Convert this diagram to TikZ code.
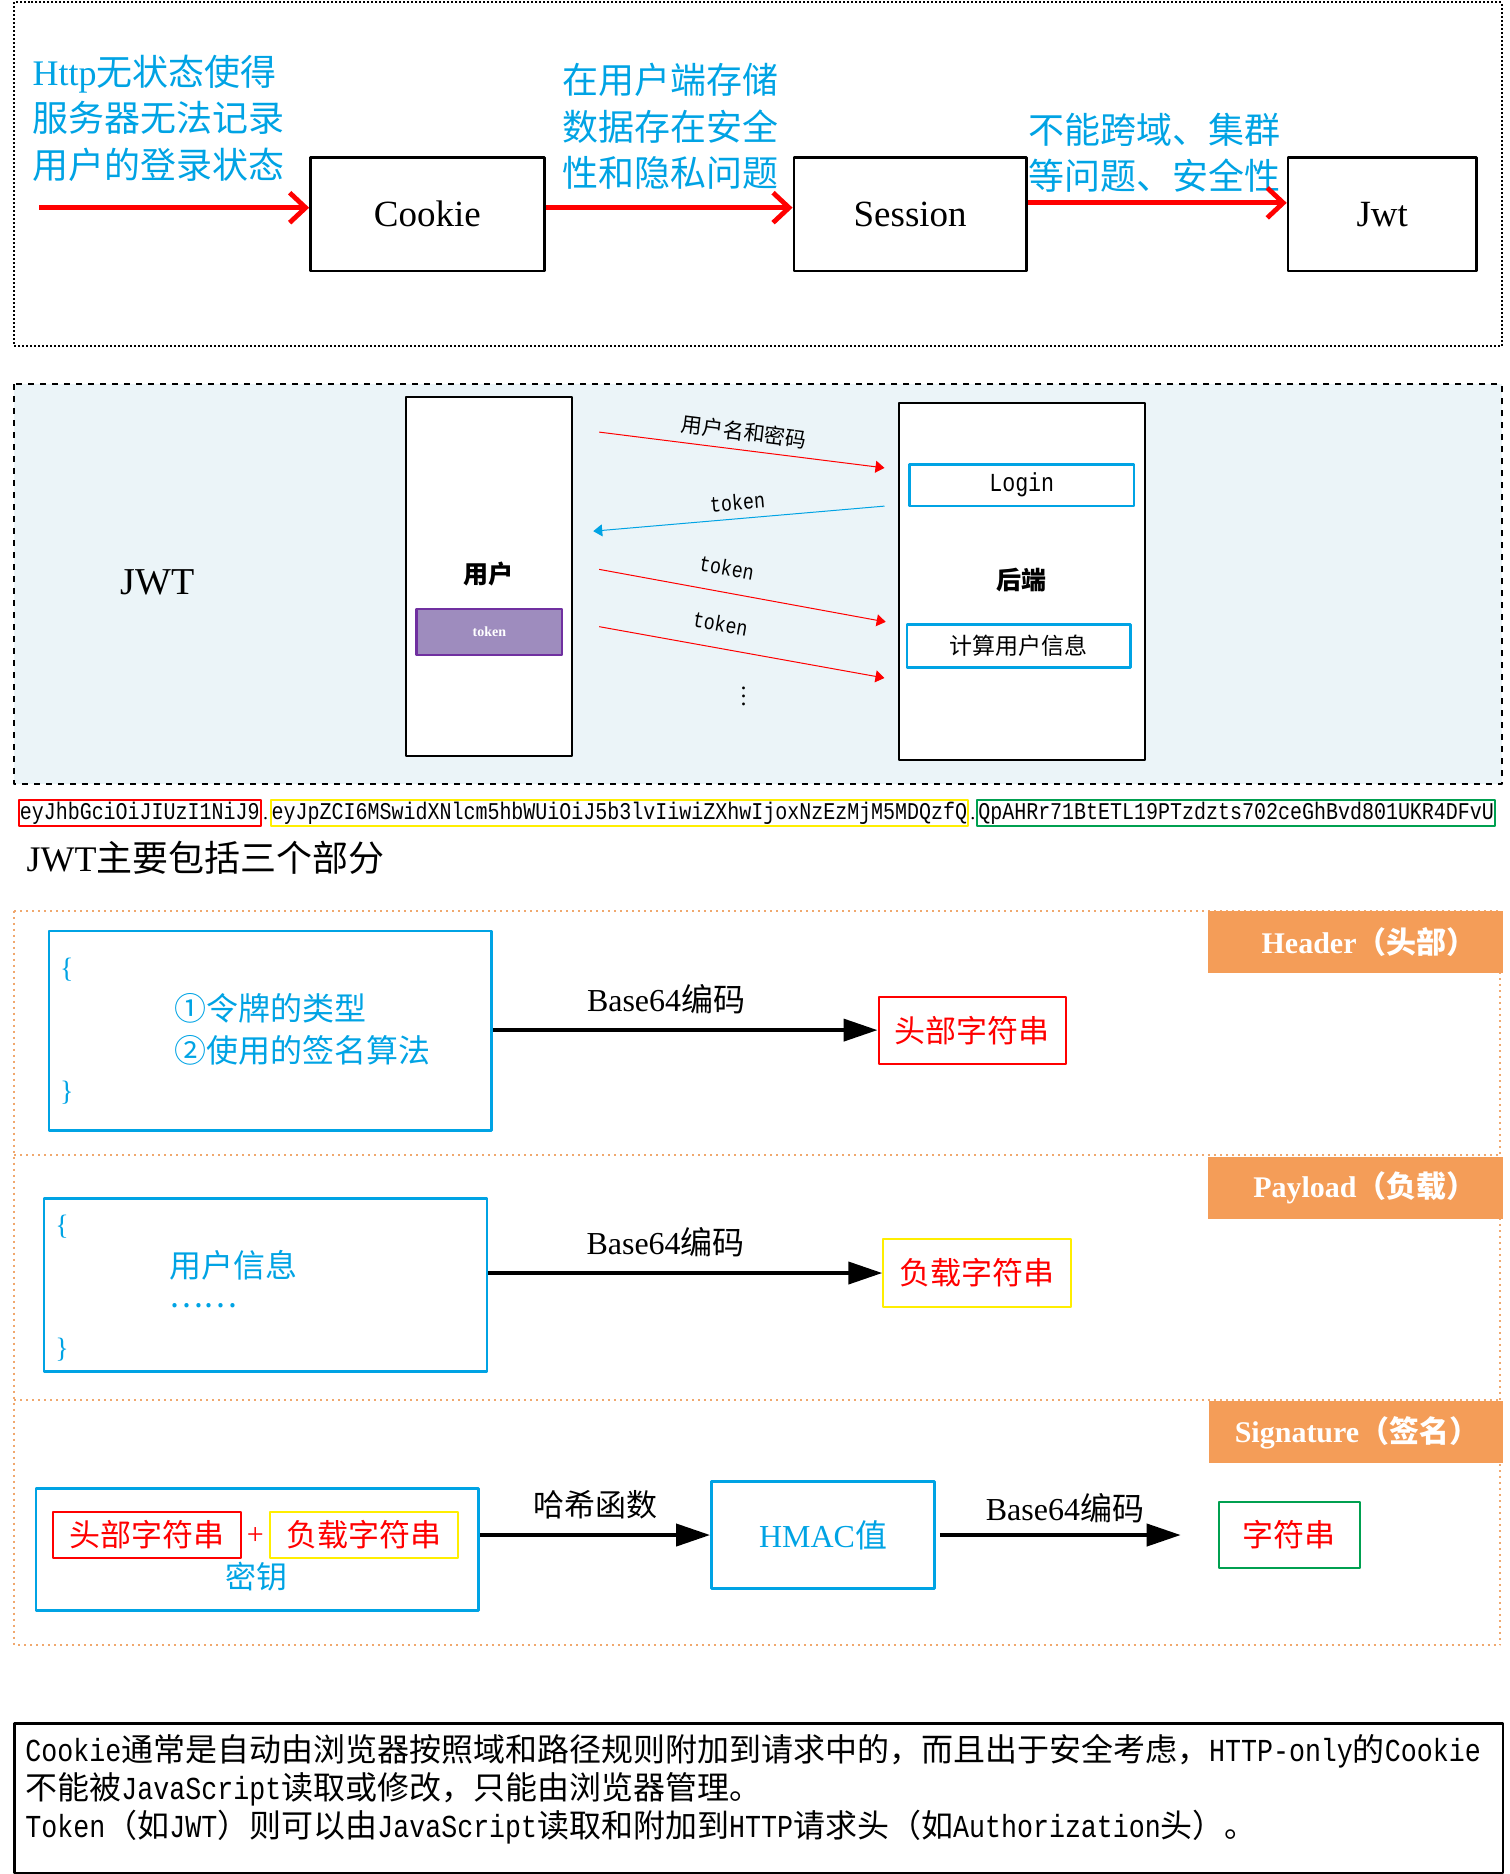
\documentclass[tikz,border=0pt]{standalone}
\usepackage{graphicx}
\usepackage{fontspec}
\setmainfont{Liberation Serif}
\setmonofont{Liberation Mono}
\newfontfamily\cjk{Noto Sans CJK SC}
\usetikzlibrary{arrows.meta,calc,positioning}
\definecolor{skyblue}{RGB}{0,163,228}
\definecolor{lightbg}{RGB}{235,244,248}
\definecolor{tagorange}{RGB}{244,157,88}
\definecolor{lineorange}{RGB}{240,168,110}
\definecolor{tokpurple}{RGB}{158,140,190}
\definecolor{tokedge}{RGB}{112,48,160}
\definecolor{strgreen}{RGB}{0,160,80}
\definecolor{stryellow}{RGB}{255,238,0}
\def\px{0.597pt}
\newcommand\fsz[2]{\fontsize{#1}{#2}\selectfont}
\newcommand\halfw[1]{\scalebox{0.833}[1]{\ttfamily #1}}
\begin{document}
\begin{tikzpicture}[x=0.597pt, y=-0.597pt, line join=round,
    frameA/.style={densely dotted, line width=1pt},
    stagebox/.style={draw, line width=1.2pt, inner sep=0pt, minimum height=95*\px, font=\fsz{18.5}{20}},
    bluetext/.style={text=skyblue, align=left, inner sep=0pt, font=\cjk\fsz{18}{23.3}},
    redarrow/.style={draw=red, line width=2.4pt, -{Straight Barb[length=8pt,width=15pt]}},
    colbox/.style={draw, line width=1pt, fill=white, inner sep=0pt},
    skybox/.style={draw=skyblue, line width=1.3pt, fill=white, inner sep=0pt},
    msgred/.style={red, line width=0.5pt, -{Triangle[length=4.5pt,width=6pt]}},
    msgblue/.style={skyblue, line width=0.5pt, {Triangle[length=4.5pt,width=6pt]}-},
    msglabel/.style={sloped, text=black, inner sep=0pt},
    strbox/.style={draw, line width=0.9pt, inner xsep=0.5pt, inner ysep=1pt, minimum height=13pt, font=\fsz{12}{12}},
    sect/.style={lineorange, dotted, line width=1pt},
    tag/.style={fill=tagorange, text=white, font=\bfseries\fsz{15}{15}, minimum width=247*\px, minimum height=52*\px, inner sep=0pt, text width=203*\px, align=right},
    partbox/.style={draw=skyblue, line width=1.3pt, inner sep=0pt},
    brace/.style={text=skyblue, inner sep=0pt, font=\fsz{14}{14}},
    bigarrow/.style={line width=2pt, -{Triangle[length=17pt,width=11pt]}},
    enclabel/.style={inner sep=0pt, font=\fsz{16}{16}},
    outbox/.style={draw, line width=1pt, inner sep=0pt, text=red, font=\cjk\fsz{15.5}{15.5}}]
\useasboundingbox (0,0) rectangle (1265,1570);

% Cookie -> Session -> Jwt
\draw[frameA] (12,2) rectangle (1258,290);
\node[stagebox, minimum width=196*\px] (cookie) at (358,179.5) {Cookie};
\node[stagebox, minimum width=195*\px] (session) at (762.5,179.5) {Session};
\node[stagebox, minimum width=158*\px] (jwt) at (1158,179.5) {Jwt};
\node[bluetext, anchor=west] (why1) at (27,99) {{\rmfamily Http}无状态使得\\服务器无法记录\\用户的登录状态};
\node[bluetext, anchor=west] (why2) at (471,106) {在用户端存储\\数据存在安全\\性和隐私问题};
\node[bluetext, anchor=west] (why3) at (861,128) {不能跨域、集群\\等问题、安全性};
\coordinate (start) at (33,174);
\draw[redarrow] (start) -- (start -| cookie.west);
\draw[redarrow] (cookie.east |- start) -- (session.west |- start);
\draw[redarrow] ([yshift=5.7pt]session.east) -- ([yshift=5.7pt]jwt.west);

% JWT flow
\filldraw[fill=lightbg, dashed, line width=1pt] (12,322) rectangle (1258,657);
\node[font=\fsz{19}{19}] (jwtname) at (132,488) {JWT};
\node[colbox, minimum width=139*\px, minimum height=300*\px] (user) at (409.5,483) {};
\node[font=\cjk\bfseries\fsz{12.5}{12.5}] (usertxt) at (409,481) {用户};
\node[draw=tokedge, fill=tokpurple, line width=1.1pt, text=white, font=\bfseries\fsz{7}{7}, minimum width=122*\px, minimum height=39*\px, inner sep=0pt] (tok) at (410,529.5) {token};
\node[colbox, minimum width=206*\px, minimum height=299*\px] (server) at (856,487.5) {};
\node[skybox, minimum width=188*\px, minimum height=35*\px, font=\fsz{13}{13}] (login) at (856,406.5) {\halfw{Login}};
\node[font=\cjk\bfseries\fsz{12.5}{12.5}] (servertxt) at (856,486) {后端};
\node[skybox, minimum width=187*\px, minimum height=36*\px, font=\cjk\fsz{11.5}{11.5}] (userinfo) at (853.5,541) {计算用户信息};
\coordinate (m1s) at (502,362); \coordinate (m1e) at (741,392);
\coordinate (m2s) at (497,445); \coordinate (m2e) at (741,424);
\coordinate (m3s) at (502,477); \coordinate (m3e) at (742,521);
\coordinate (m4s) at (502,525); \coordinate (m4e) at (741,568);
\draw[msgred] (m1s) -- node[msglabel, above=4pt, font=\cjk\fsz{10.5}{10.5}] (lab1) {用户名和密码} (m1e);
\draw[msgblue] (m2s) -- node[msglabel, above=4pt, font=\fsz{11}{11}] (lab2) {\halfw{token}} (m2e);
\draw[msgred] (m3s) -- node[msglabel, pos=0.43, above=8pt, font=\fsz{11}{11}] (lab3) {\halfw{token}} (m3e);
\draw[msgred] (m4s) -- node[msglabel, pos=0.41, above=8pt, font=\fsz{11}{11}] (lab4) {\halfw{token}} (m4e);
\node[font=\fsz{12}{12}] (more) at (623,578) {$\vdots$};

% token string
\node[strbox, draw=red, anchor=west] (hpart) at (15,681) {\halfw{eyJhbGciOiJIUzI1NiJ9}};
\node[strbox, draw=stryellow, anchor=west] (ppart) at (226,681) {\halfw{eyJpZCI6MSwidXNlcm5hbWUiOiJ5b3lvIiwiZXhwIjoxNzEzMjM5MDQzfQ}};
\node[strbox, draw=strgreen, anchor=west] (spart) at (818,681) {\halfw{QpAHRr71BtETL19PTzdzts702ceGhBvd801UKR4DFvU}};
\node[inner sep=0pt, anchor=base, font=\fsz{10}{10}] (dot1) at ($(hpart.base east)!.5!(ppart.base west)$) {.};
\node[inner sep=0pt, anchor=base, font=\fsz{10}{10}] (dot2) at ($(ppart.base east)!.5!(spart.base west)$) {.};
\node[anchor=west, inner sep=0pt, font=\cjk\fsz{18}{18}] (parts) at (22,719) {{\rmfamily JWT}主要包括三个部分};

% three parts
\draw[sect] (12,763) rectangle (1257,1378);
\draw[sect] (12,968) -- (1257,968);
\draw[sect] (12,1173) -- (1257,1173);
\node[tag] (headtag) at (1135.5,789) {Header{\cjk （头部）}};
\node[tag] (paytag) at (1135.5,995) {Payload{\cjk （负载）}};
\node[tag] (signtag) at (1136,1200) {Signature{\cjk （签名）}};

\node[partbox, minimum width=371*\px, minimum height=167*\px] (headjson) at (226.5,863.5) {};
\node[brace] (hl) at (56,812) {\textbraceleft};
\node[brace] (hr) at (56,915) {\textbraceright};
\node[bluetext, anchor=west, font=\cjk\fsz{16}{21}] (headtxt) at (146,862) {①令牌的类型\\②使用的签名算法};
\node[outbox, draw=red, minimum width=157*\px, minimum height=56*\px] (headstr) at (814.5,863) {头部字符串};
\draw[bigarrow] (headjson.east |- headstr) -- node[enclabel, pos=0.45, above=7pt] (enc1) {Base64{\cjk 编码}} (headstr.west);

\node[partbox, minimum width=371*\px, minimum height=145*\px] (payjson) at (222.5,1076.5) {};
\node[brace] (pl) at (52,1028) {\textbraceleft};
\node[brace] (pr) at (52,1131) {\textbraceright};
\node[bluetext, anchor=west, font=\cjk\fsz{16}{16}] (paytxt) at (142,1060) {用户信息};
\node[bluetext, anchor=west, font=\cjk\fsz{16}{16}] (paydots) at (142,1094) {……};
\node[outbox, draw=stryellow, minimum width=157*\px, minimum height=57*\px] (paystr) at (818.5,1066.5) {负载字符串};
\draw[bigarrow] (payjson.east |- paystr) -- node[enclabel, pos=0.45, above=7pt] (enc2) {Base64{\cjk 编码}} (paystr.west);

\node[partbox, minimum width=371*\px, minimum height=102*\px] (signin) at (215.5,1298) {};
\node[outbox, draw=red, minimum width=158*\px, minimum height=38*\px] (signhead) at (123,1286) {头部字符串};
\node[text=red, inner sep=0pt, font=\fsz{15}{15}] (plus) at (214,1287) {+};
\node[outbox, draw=stryellow, minimum width=158*\px, minimum height=38*\px] (signpay) at (305,1286) {负载字符串};
\node[text=skyblue, inner sep=0pt, font=\cjk\fsz{15.5}{15.5}] (secret) at (215,1321) {密钥};
\node[partbox, minimum width=187*\px, minimum height=90*\px, text=skyblue, font=\fsz{16}{16}] (hmac) at (689.5,1286) {HMAC{\cjk 值}};
\node[outbox, draw=strgreen, minimum width=118*\px, minimum height=56*\px] (result) at (1080,1286) {字符串};
\draw[bigarrow] (signin.east |- hmac) -- node[enclabel, above=7pt, font=\cjk\fsz{15.5}{15.5}] (hashlab) {哈希函数} (hmac.west);
\draw[bigarrow, shorten >=18.5pt] ([xshift=2pt]hmac.east) -- node[enclabel, pos=0.45, above=5pt] (enc3) {Base64{\cjk 编码}} (result.west);

% note
\node[draw, line width=1.2pt, minimum width=1247*\px, minimum height=125*\px, inner sep=0pt] (notebox) at (635.5,1506.5) {};
\node[anchor=west, align=left, inner sep=0pt, font=\cjk\fsz{16}{19.1}] (notetxt) at (21,1499) {\halfw{Cookie}通常是自动由浏览器按照域和路径规则附加到请求中的，而且出于安全考虑，\halfw{HTTP-only}的\halfw{Cookie}\\不能被\halfw{JavaScript}读取或修改，只能由浏览器管理。\\\halfw{Token}（如\halfw{JWT}）则可以由\halfw{JavaScript}读取和附加到\halfw{HTTP}请求头（如\halfw{Authorization}头）。};
\end{tikzpicture}
\end{document}
